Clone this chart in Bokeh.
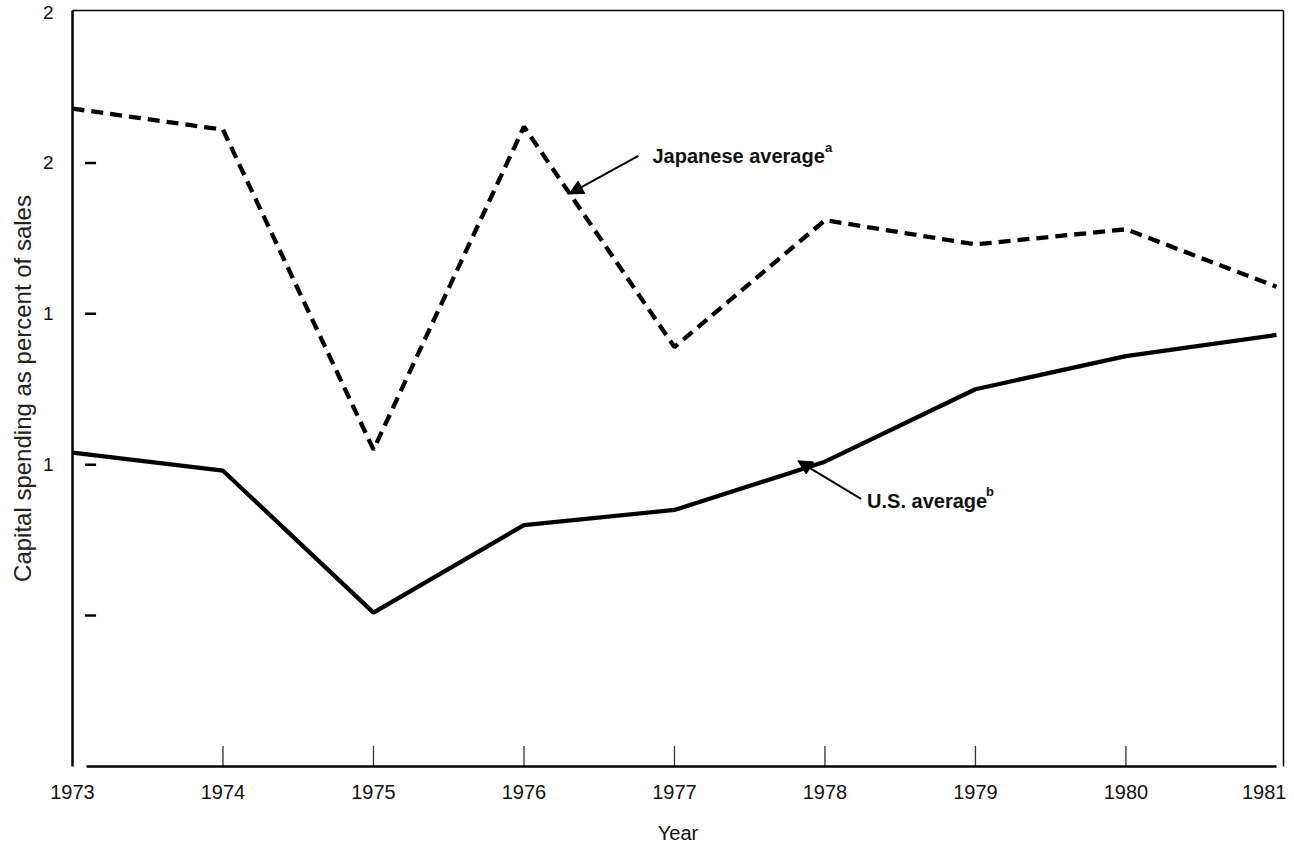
import math
from bokeh.plotting import figure
from bokeh.models import (FixedTicker, LinearAxis, Range1d, Label, Arrow, NormalHead)
from bokeh.embed import file_html
from bokeh.resources import INLINE

# ---- data ----
years = [1973, 1974, 1975, 1976, 1977, 1978, 1979, 1980, 1981]
japanese = [21.8, 21.1, 10.5, 21.2, 13.9, 18.1, 17.3, 17.8, 15.9]
us = [10.4, 9.8, 5.1, 8.0, 8.5, 10.1, 12.5, 13.6, 14.3]
y_ticks = [5, 10, 15, 20, 25]
y_tick_labels = ["", "1", "1", "2", "2"]

FONT = "Liberation Sans"

p = figure(width=1286, height=849, output_backend="svg", toolbar_location=None,
           x_range=Range1d(1973, 1981.047), y_range=Range1d(0, 25.05),
           min_border_left=72, min_border_right=3, min_border_top=10, min_border_bottom=83)
p.outline_line_color = None
p.grid.visible = False
p.background_fill_color = "white"
p.border_fill_color = "white"

# bottom axis
xa = p.xaxis[0]
xa.ticker = FixedTicker(ticks=years)
xa.bounds = (1973.09, 1981)
xa.axis_line_width = 2.5
xa.axis_line_color = "black"
xa.major_tick_out = 0
xa.major_tick_in = 0
xa.minor_tick_out = 0
xa.minor_tick_in = 0
xa.major_label_standoff = 18
xa.major_label_text_font = FONT
xa.major_label_text_font_size = "20px"
xa.major_label_text_color = "#111111"
xa.axis_label = "Year"
xa.axis_label_text_font = FONT
xa.axis_label_text_font_size = "20px"
xa.axis_label_text_font_style = "normal"
xa.axis_label_text_color = "#111111"
xa.axis_label_standoff = 20

# left axis
ya = p.yaxis[0]
ya.ticker = FixedTicker(ticks=y_ticks)
ya.major_label_overrides = {t: l for t, l in zip(y_ticks, y_tick_labels)}
ya.axis_line_width = 2.5
ya.axis_line_color = "black"
ya.major_tick_out = 0
ya.major_tick_in = 0
ya.minor_tick_out = 0
ya.minor_tick_in = 0
ya.major_label_standoff = 19
ya.major_label_text_font = FONT
ya.major_label_text_font_size = "19px"
ya.major_label_text_color = "#111111"
ya.axis_label = "Capital spending as percent of sales"
ya.axis_label_text_font = FONT
ya.axis_label_text_font_size = "24px"
ya.axis_label_text_font_style = "normal"
ya.axis_label_text_color = "#222222"
ya.axis_label_standoff = 4

# top and right frame lines
for side in ("above", "right"):
    ax = LinearAxis(ticker=FixedTicker(ticks=[]), axis_line_width=1.5, axis_line_color="black",
                    major_tick_out=0, major_tick_in=0, minor_tick_out=0, minor_tick_in=0,
                    major_label_standoff=0, major_label_text_font_size="0px")
    p.add_layout(ax, side)

# detached tick marks drawn inside the frame from the tick lists
ytick_x = 1973.12
p.scatter(x=[ytick_x] * (len(y_ticks) - 1), y=y_ticks[:-1], marker="dash", size=11,
          line_color="black", line_width=2.5)
xtick_y = 0.35
inner_years = years[1:-1]
p.scatter(x=inner_years, y=[xtick_y] * len(inner_years), marker="dash", angle=math.pi / 2,
          size=20, line_color="#333333", line_width=1.3)

# series
p.line(years, japanese, line_color="black", line_width=4.3, line_dash="12 7")
p.line(years, us, line_color="black", line_width=4.3)

# annotations
jp_text = (1976.854, 20.23)
jp_sup = (1978.00, 20.50)
jp_arrow = ((1976.76, 20.23), (1976.30, 18.97))
us_text = (1978.28, 8.81)
us_sup = (1979.07, 9.12)
us_arrow = ((1978.24, 8.87), (1977.82, 10.13))

for txt, pos, sup, spos, arr in (("Japanese average", jp_text, "a", jp_sup, jp_arrow),
                                  ("U.S. average", us_text, "b", us_sup, us_arrow)):
    p.add_layout(Label(x=pos[0], y=pos[1], text=txt, text_font=FONT, text_font_size="20px",
                       text_font_style="bold", text_baseline="middle", text_align="left",
                       text_color="#111111"))
    p.add_layout(Label(x=spos[0], y=spos[1], text=sup, text_font=FONT, text_font_size="13px",
                       text_font_style="bold", text_baseline="middle", text_align="left",
                       text_color="#111111"))
    p.add_layout(Arrow(x_start=arr[0][0], y_start=arr[0][1], x_end=arr[1][0], y_end=arr[1][1],
                       line_width=2, line_color="black",
                       end=NormalHead(size=14, fill_color="black", line_color="black")))

open("out.html", "w").write(file_html(p, INLINE))
